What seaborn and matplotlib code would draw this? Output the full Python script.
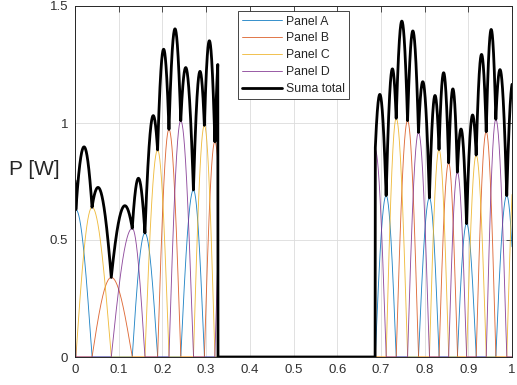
import numpy as np
import pandas as pd
import matplotlib
matplotlib.use("Agg")
import matplotlib.pyplot as plt
import seaborn as sns

# ---------------- data ----------------
panels = ["Panel A", "Panel B", "Panel C", "Panel D"]
panel_colors = ["#0072BD", "#D95319", "#EDB120", "#7E2F8E"]
total_label = "Suma total"

# peak time / peak power of every lobe, in the order the panels light up
knot_time = [-0.035, -0.006, 0.002, 0.039, 0.083, 0.131, 0.160, 0.189,
             0.215, 0.242, 0.271, 0.296, 0.320, 0.345, 0.370, 0.600,
             0.662, 0.687, 0.712, 0.735, 0.761, 0.786, 0.811, 0.833,
             0.855, 0.875, 0.896, 0.918, 0.941, 0.963, 0.988, 1.011, 1.035]
knot_peak = [0.50, 0.45, 0.63, 0.64, 0.34, 0.55, 0.53, 0.885,
             0.973, 1.01, 0.714, 0.99, 0.92, 1.00, 0.70, 1.00,
             1.00, 0.885, 0.69, 1.02, 1.01, 0.96, 0.68, 0.887,
             0.83, 0.79, 0.57, 0.863, 0.963, 1.016, 0.69, 0.95, 0.90]
knot_panel = ["Panel B", "Panel D", "Panel A", "Panel C", "Panel B", "Panel D", "Panel A", "Panel C",
              "Panel B", "Panel D", "Panel A", "Panel C", "Panel B", "Panel D", "Panel A", "Panel C",
              "Panel B", "Panel D", "Panel A", "Panel C", "Panel B", "Panel D", "Panel A", "Panel C",
              "Panel B", "Panel D", "Panel A", "Panel C", "Panel B", "Panel D", "Panel A", "Panel C", "Panel B"]
eclipse_start = 0.327
eclipse_end = 0.687

x_ticks = [0, 0.1, 0.2, 0.3, 0.4, 0.5, 0.6, 0.7, 0.8, 0.9, 1.0]
x_tick_labels = ["0", "0.1", "0.2", "0.3", "0.4", "0.5", "0.6", "0.7", "0.8", "0.9", "1"]
y_ticks = [0, 0.5, 1.0, 1.5]
y_tick_labels = ["0", "0.5", "1", "1.5"]
y_label = "P [W]"

# ---------------- build the curves ----------------
t = np.linspace(0, 1, 4001)
power = {p: np.zeros_like(t) for p in panels}
for i in range(1, len(knot_time) - 1):
    t0, tc, t1 = knot_time[i - 1], knot_time[i], knot_time[i + 1]
    a = knot_peak[i]
    y = np.zeros_like(t)
    rise = (t >= t0) & (t <= tc)
    fall = (t > tc) & (t <= t1)
    y[rise] = a * np.sin(np.pi / 2 * (t[rise] - t0) / (tc - t0))
    y[fall] = a * np.cos(np.pi / 2 * (t[fall] - tc) / (t1 - tc))
    power[knot_panel[i]] += y
sun = (t < eclipse_start) | (t >= eclipse_end)
for p in panels:
    power[p] = power[p] * sun
total = sum(power[p] for p in panels)

df = pd.concat([pd.DataFrame({"t": t, "P": power[p], "serie": p}) for p in panels],
               ignore_index=True)

# ---------------- style ----------------
sns.set_theme(style="white")
plt.rcParams["font.family"] = ["Liberation Sans", "DejaVu Sans"]

fig = plt.figure(figsize=(5.17, 3.85), dpi=100)
ax = fig.add_axes([75 / 517, 28 / 385, 437 / 517, 351 / 385])

sns.lineplot(data=df, x="t", y="P", hue="serie", hue_order=panels,
             palette=panel_colors, linewidth=0.65, alpha=0.85,
             estimator=None, sort=False, ax=ax)
sns.lineplot(x=t, y=total, color="black", linewidth=2.0, estimator=None,
             sort=False, label=total_label, ax=ax)

ax.set_xlim(0, 1)
ax.set_ylim(0, 1.5)
ax.set_xticks(x_ticks)
ax.set_xticklabels(x_tick_labels)
ax.set_yticks(y_ticks)
ax.set_yticklabels(y_tick_labels)
ax.set_xlabel("")
ax.set_ylabel(y_label, rotation=0, fontsize=15, color="#262626", ha="center", va="center")
ax.yaxis.set_label_coords(-0.092, 0.535)

ax.grid(True, color="#dcdcdc", linewidth=0.6)
ax.set_axisbelow(True)
ax.tick_params(direction="in", length=4, width=0.6, top=True, right=True,
               labelsize=9.5, colors="#303030", pad=5)
for s in ax.spines.values():
    s.set_color("#262626")
    s.set_linewidth(0.7)

leg = ax.legend(loc="upper left", bbox_to_anchor=(0.372, 0.985), fontsize=8.8,
                frameon=True, fancybox=False, edgecolor="#262626", framealpha=1,
                handlelength=3.3, handletextpad=0.3, labelspacing=0.4,
                borderpad=0.35, borderaxespad=0)
leg.get_frame().set_linewidth(0.6)

fig.savefig("out.png", dpi=100)
